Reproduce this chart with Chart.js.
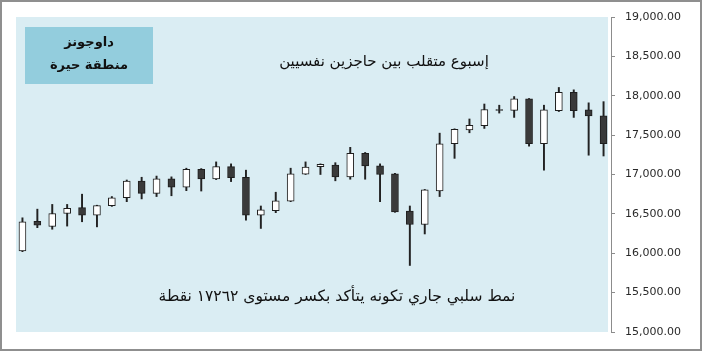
<!DOCTYPE html>
<html>
<head>
<meta charset="utf-8">
<script src="https://cdn.jsdelivr.net/npm/chart.js@4"></script>
<style>
html,body{margin:0;padding:0;background:#fff;}
#wrap{width:702px;height:351px;position:relative;}
</style>
</head>
<body>
<div id="wrap"><canvas id="c" width="702" height="351"></canvas></div>
<script>
const weeks = ['1','2','3','4','5','6','7','8','9','10','11','12','13','14','15','16','17','18','19','20','21','22','23','24','25','26','27','28','29','30','31','32','33','34','35','36','37','38','39','40'];
const opens  = [16030,16405,16340,16505,16580,16485,16605,16705,16915,16760,16945,16840,17065,16945,17100,16965,16485,16540,16660,17005,17100,17120,16970,17270,17110,17010,16535,16365,16790,17390,17565,17620,17825,17815,17960,17390,17810,18045,17820,17745];
const closes = [16400,16355,16505,16570,16485,16605,16705,16915,16760,16945,16840,17065,16945,17100,16960,16485,16550,16665,17010,17095,17130,16970,17270,17110,17000,16525,16365,16805,17390,17575,17625,17825,17815,17960,17390,17820,18045,17810,17745,17390];
const highs  = [16450,16560,16620,16620,16750,16610,16720,16930,16965,16980,16970,17080,17075,17160,17135,17055,16600,16775,17080,17160,17135,17150,17345,17280,17135,17015,16600,16810,17525,17580,17705,17895,17880,17990,17965,17880,18105,18075,17910,17925];
const lows   = [16020,16325,16305,16345,16400,16335,16595,16655,16690,16720,16730,16795,16790,16935,16910,16420,16315,16515,16655,17000,17000,16920,16940,16940,16655,16520,15845,16245,16720,17205,17530,17585,17780,17725,17360,17055,17800,17725,17245,17235];
const yTicks = [15000,15500,16000,16500,17000,17500,18000,18500,19000];
const titleLines = ['داوجونز','منطقة حيرة'];
const noteTop = 'إسبوع متقلب بين حاجزين نفسيين';
const noteBottom = 'نمط سلبي جاري تكونه يتأكد بكسر مستوى ١٧٢٦٢ نقطة';

const bodies = opens.map((o,i)=>[o,closes[i]]);
const wicks = lows.map((l,i)=>[l,highs[i]]);
const bodyColors = opens.map((o,i)=> closes[i] >= o ? '#ffffff' : '#3a3a3a');

const decor = {
  id:'decor',
  beforeDraw(chart){
    const ctx = chart.ctx, a = chart.chartArea;
    ctx.save();
    ctx.fillStyle = '#ffffff';
    ctx.fillRect(0,0,chart.width,chart.height);
    ctx.fillStyle = '#daedf3';
    ctx.fillRect(a.left+1, a.top, (a.right-3)-(a.left+1), a.bottom-a.top);
    ctx.restore();
  },
  afterDraw(chart){
    const ctx = chart.ctx;
    ctx.save();
    ctx.fillStyle = '#93cddd';
    ctx.fillRect(25,27,128,57);
    ctx.fillStyle = '#111';
    ctx.direction = 'rtl';
    ctx.textAlign = 'center';
    ctx.textBaseline = 'middle';
    ctx.font = 'bold 13px "DejaVu Sans", sans-serif';
    ctx.fillText(titleLines[0], 89, 43);
    ctx.fillText(titleLines[1], 89, 66);
    ctx.font = '15px "DejaVu Sans", sans-serif';
    ctx.fillText(noteTop, 384, 62);
    ctx.font = '15.5px "DejaVu Sans", sans-serif';
    ctx.fillText(noteBottom, 337, 297);
    ctx.strokeStyle = '#8f8f8f';
    ctx.lineWidth = 2;
    ctx.strokeRect(1,1,chart.width-2,chart.height-2);
    ctx.restore();
  }
};

new Chart(document.getElementById('c'), {
  type:'bar',
  data:{
    labels: weeks,
    datasets:[
      {label:'body', data: bodies, backgroundColor: bodyColors, borderColor:'#1e1e1e', borderWidth:1, borderSkipped:false, barThickness:7, grouped:false, order:0},
      {label:'wick', data: wicks, backgroundColor:'#222222', borderWidth:0, barThickness:1.3, grouped:false, order:1}
    ]
  },
  options:{
    responsive:false,
    animation:false,
    devicePixelRatio:1,
    layout:{padding:{left:15, top:17, bottom:19, right:0}},
    plugins:{legend:{display:false}, tooltip:{enabled:false}},
    scales:{
      x:{display:false, offset:true},
      y:{
        position:'right',
        min:15000, max:19000,
        afterBuildTicks(s){ s.ticks = yTicks.map(v=>({value:v})); },
        afterFit(s){ s.width = 91; },
        grid:{drawOnChartArea:false, drawTicks:true, tickLength:4, color:'#8c8c8c'},
        border:{display:true, color:'#8c8c8c', width:1},
        ticks:{
          padding:10,
          color:'#2a2a2a',
          font:{family:'"DejaVu Sans", sans-serif', size:11},
          callback:(v)=> Number(v).toLocaleString('en-US',{minimumFractionDigits:2, maximumFractionDigits:2})
        }
      }
    }
  },
  plugins:[decor]
});
</script>
</body>
</html>
